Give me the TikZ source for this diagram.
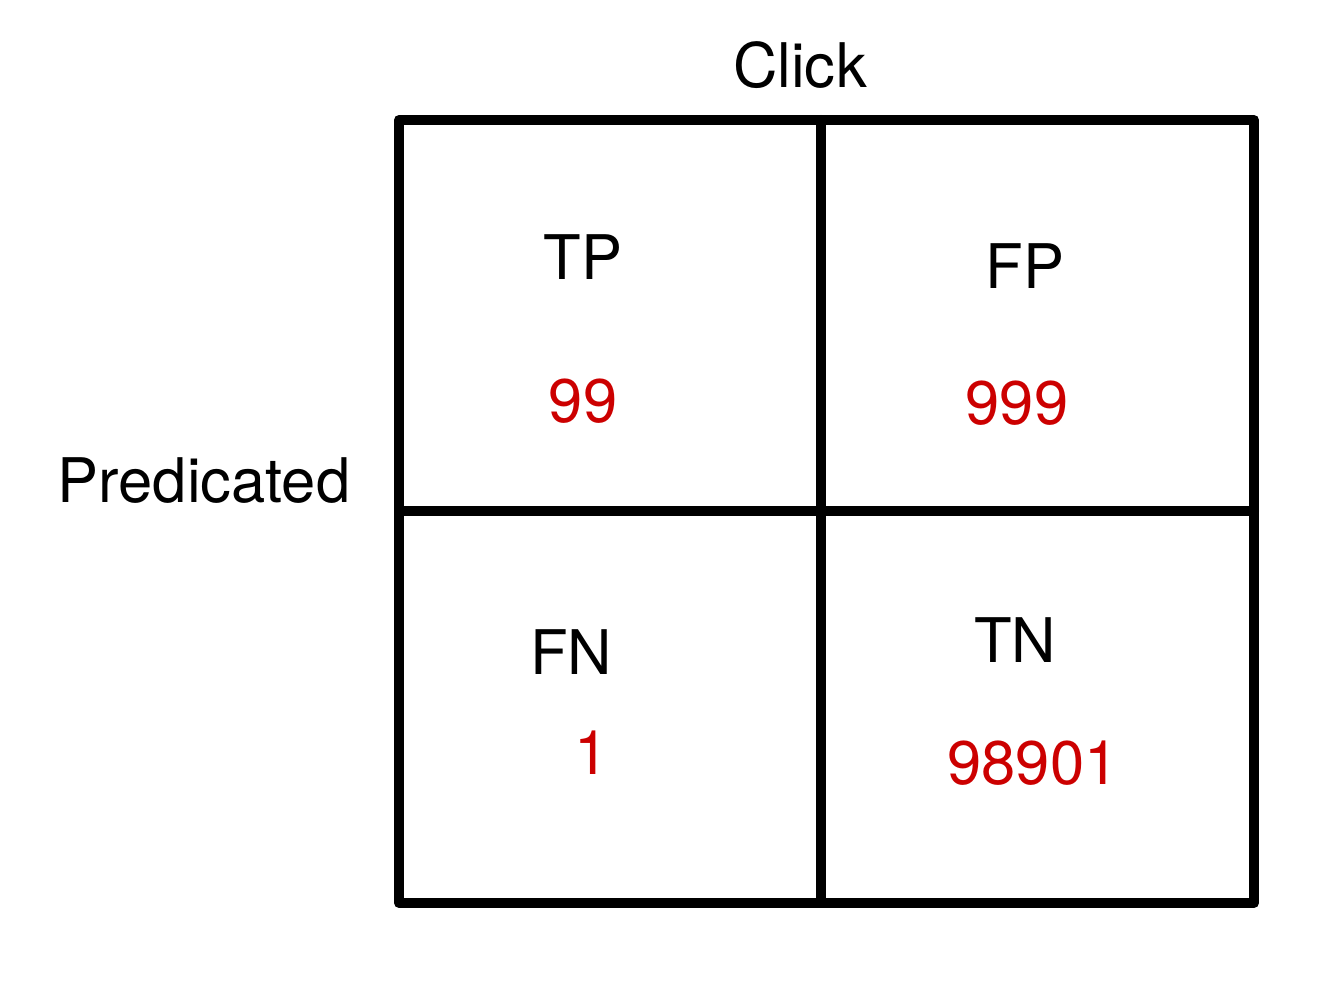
\documentclass[tikz,border=0pt]{standalone}
\usepackage{fontspec}
\setmainfont{TeX Gyre Heros}
\usetikzlibrary{positioning}
\definecolor{numred}{RGB}{204,0,0}
\tikzset{
  lbl/.style={anchor=base, inner sep=0pt, font=\fontsize{17.5}{20}\selectfont},
  num/.style={lbl, text=numred},
  grid/.style={line width=0.1cm, line join=round, line cap=round}
}
\begin{document}
\begin{tikzpicture}
          \useasboundingbox (0,0) rectangle (13.39,10);
          % matrix frame
          \draw[grid] (3.99,0.97) rectangle (12.54,8.80);
          \draw[grid] (8.21,0.97) -- (8.21,8.80);
          \draw[grid] (3.99,4.89) -- (12.54,4.89);
          % axis titles
          \node[lbl] (click) at (8.00, 9.12) {Click};
          \node[lbl] (pred) at (2.04, 4.97) {Predicated};
          % cells
          \node[lbl] (tp) at (5.83, 7.20) {TP};
          \node[num] (tpn) at (5.83, 5.77) {99};
          \node[lbl] (fp) at (10.25, 7.11) {FP};
          \node[num] (fpn) at (10.17, 5.75) {999};
          \node[lbl] (fn) at (5.71, 3.25) {FN};
          \node[num] (fnn) at (5.92, 2.25) {1};
          \node[lbl] (tn) at (10.15, 3.37) {TN};
          \node[num] (tnn) at (10.33, 2.15) {98901};
        \end{tikzpicture}
\end{document}
